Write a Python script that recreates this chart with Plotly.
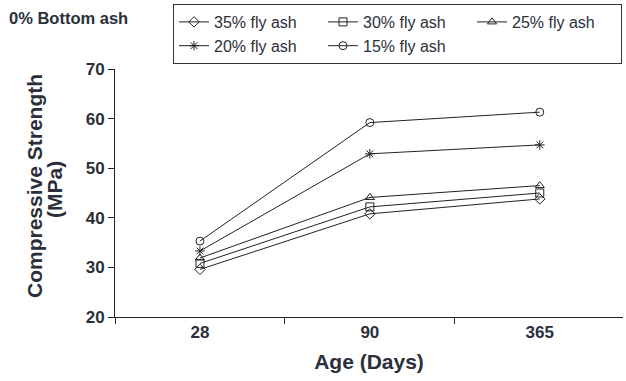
import plotly.graph_objects as go

# Curing ages (days) and compressive strength (MPa) for each fly ash content
ages = ["28", "90", "365"]
fa35 = [29.6, 40.8, 43.8]
fa30 = [30.8, 42.2, 45.0]
fa25 = [31.9, 44.1, 46.5]
fa20 = [33.3, 52.9, 54.7]
fa15 = [35.3, 59.2, 61.3]

series = [
    ("35% fly ash", fa35, "diamond-open"),
    ("30% fly ash", fa30, "square-open"),
    ("25% fly ash", fa25, "triangle-up-open"),
    ("20% fly ash", fa20, "asterisk-open"),
    ("15% fly ash", fa15, "circle-open"),
]

W, H = 626, 381
ML, MR, MT, MB = 115, 3, 69, 64
PW, PH = W - ML - MR, H - MT - MB

def px_x(p):
    return (p - ML) / PW

def px_y(p):
    return 1 + (MT - p) / PH

FONT = "Liberation Sans, Arial, sans-serif"
INK = "#2b2f3a"

fig = go.Figure()
for name, vals, sym in series:
    fig.add_trace(go.Scatter(
        x=ages, y=vals, name=name, mode="lines+markers",
        line=dict(color="#222222", width=1),
        marker=dict(symbol=sym, size=8, color="#222222",
                    line=dict(color="#222222", width=1)),
    ))

tick_font = dict(family=FONT, size=17, color=INK)

fig.update_layout(
    width=W, height=H,
    margin=dict(l=ML, r=MR, t=MT, b=MB),
    paper_bgcolor="white", plot_bgcolor="white",
    font=dict(family=FONT, color=INK),
    showlegend=True,
    legend=dict(
        orientation="h",
        x=px_x(173), y=px_y(4),
        xanchor="left", yanchor="top",
        bordercolor="#333333", borderwidth=1,
        entrywidth=104, entrywidthmode="pixels",
        font=dict(family=FONT, size=16, color=INK),
        itemwidth=30,
        tracegroupgap=0,
    ),
    xaxis=dict(
        type="category", range=[-0.5, 2.49],
        showline=True, linecolor="#222222", linewidth=1,
        ticks="outside", tickson="boundaries", ticklen=6,
        tickcolor="#222222", showgrid=False, zeroline=False,
        tickfont=tick_font,
        tickprefix="<b>", ticksuffix="</b>",
        title=dict(text="<b>Age (Days)</b>",
                   font=dict(family=FONT, size=21, color=INK),
                   standoff=12),
    ),
    yaxis=dict(
        range=[20, 70], dtick=10, tick0=20,
        showline=True, linecolor="#222222", linewidth=1,
        ticks="outside", ticklen=6, tickcolor="#222222",
        showgrid=False, zeroline=False,
        tickfont=tick_font,
        tickprefix="<b>", ticksuffix="</b>",
    ),
)

# Two-line rotated y-axis caption
fig.add_annotation(
    text="<b>Compressive Strength</b>",
    xref="paper", yref="paper", x=px_x(34), y=px_y(186),
    xanchor="center", yanchor="middle", textangle=-90, showarrow=False,
    font=dict(family=FONT, size=21, color=INK),
)
fig.add_annotation(
    text="<b>(MPa)</b>",
    xref="paper", yref="paper", x=px_x(54), y=px_y(190),
    xanchor="center", yanchor="middle", textangle=-90, showarrow=False,
    font=dict(family=FONT, size=21, color=INK),
)

fig.add_annotation(
    text="<b>0% Bottom ash</b>",
    xref="paper", yref="paper", x=px_x(7), y=px_y(18),
    xanchor="left", yanchor="middle", showarrow=False,
    font=dict(family=FONT, size=16.5, color=INK),
)

fig.write_html("out.html")
